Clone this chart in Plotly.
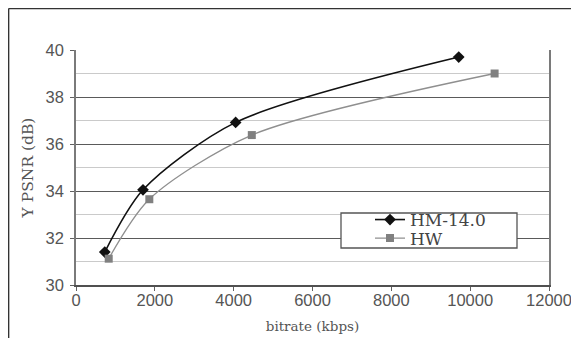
import plotly.graph_objects as go

hm_x = [730, 1700, 4050, 9710]
hm_y = [31.4, 34.05, 36.92, 39.7]
hw_x = [830, 1860, 4460, 10620]
hw_y = [31.12, 33.65, 36.38, 39.0]
names = ["HM-14.0", "HW"]
x_ticks = [0, 2000, 4000, 6000, 8000, 10000, 12000]
y_ticks = [30, 32, 34, 36, 38, 40]

serif = "DejaVu Serif, Liberation Serif, serif"
sans = "Liberation Sans, Arial, sans-serif"
txt = "#555555"

# the page body has an 8px margin: work in screen pixels, convert to paper
OFF = 8
W, H = 579 - OFF, 338 - OFF
L, T, PW, PH = 76 - OFF, 50 - OFF, 473, 235


def px(x):
    return (x - OFF - L) / PW


def py(y):
    return (T + PH - (y - OFF)) / PH


fig = go.Figure()
fig.add_trace(go.Scatter(x=hm_x, y=hm_y, name=names[0], mode="lines+markers", legend="legend",
                         line=dict(color="#111111", width=1.6, shape="spline", smoothing=0.8),
                         marker=dict(symbol="diamond", size=9, color="#111111")))
fig.add_trace(go.Scatter(x=hw_x, y=hw_y, name=names[1], mode="lines+markers", legend="legend2",
                         line=dict(color="#8f8f8f", width=1.3, shape="spline", smoothing=0.8),
                         marker=dict(symbol="square", size=8, color="#808080")))

leg_common = dict(xanchor="left", yanchor="middle", bgcolor="rgba(0,0,0,0)", borderwidth=0,
                  font=dict(family=serif, size=17, color="#444444"))

fig.update_layout(
    width=W, height=H,
    margin=dict(l=L, r=W - L - PW, t=T, b=H - T - PH, pad=0, autoexpand=False),
    paper_bgcolor="white", plot_bgcolor="white",
    font=dict(family=sans, size=16, color=txt),
    showlegend=True,
    legend=dict(x=px(370), y=py(220), **leg_common),
    legend2=dict(x=px(370), y=py(238.5), **leg_common),
    xaxis=dict(range=[0, 12000], tickvals=x_ticks, ticktext=[str(v) for v in x_ticks],
               showgrid=False, zeroline=False, automargin=False,
               showline=True, linecolor="#505050", linewidth=2,
               ticks="outside", ticklen=4, tickcolor="#606060", ticklabelstandoff=-5,
               tickfont=dict(family=sans, size=16.5, color=txt),
               title=dict(text="bitrate (kbps)", font=dict(family=serif, size=13.5, color=txt), standoff=14)),
    yaxis=dict(range=[30, 40], tickvals=y_ticks, ticktext=[str(v) for v in y_ticks],
               showgrid=True, gridcolor="#5a5a5a", gridwidth=1.3,
               zeroline=False, automargin=False, showline=True, linecolor="#7a7a7a", linewidth=1.5, mirror=True,
               ticks="outside", ticklen=4, tickcolor="#606060", ticklabelstandoff=3,
               tickfont=dict(family=sans, size=16.5, color=txt),
               minor=dict(dtick=1, tick0=31, showgrid=True, gridcolor="#cacaca", gridwidth=1.3),
               title=dict(text="Y PSNR (dB)", font=dict(family=serif, size=15.5, color=txt), standoff=8)),
)

# legend box
fig.add_shape(type="rect", xref="paper", yref="paper",
              x0=px(341), x1=px(517), y0=py(248), y1=py(213),
              fillcolor="white", line=dict(color="#555555", width=1.3), layer="above")
# outer border (left & top), as close to the page edge as the paper allows
fig.add_shape(type="line", xref="paper", yref="paper",
              x0=px(8.6), x1=px(8.6), y0=py(338), y1=py(8.6),
              line=dict(color="#333333", width=1.5))
fig.add_shape(type="line", xref="paper", yref="paper",
              x0=px(8.6), x1=px(579), y0=py(8.6), y1=py(8.6),
              line=dict(color="#333333", width=1.5))

fig.write_html("out.html", config={"displayModeBar": False})
